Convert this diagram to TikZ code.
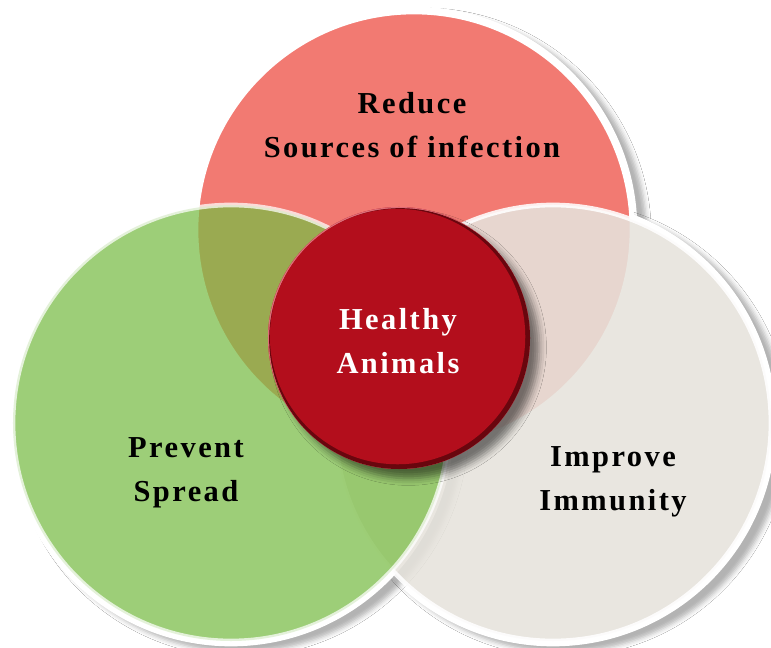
\documentclass[tikz,border=0pt]{standalone}
\usepackage{fontspec}
\usepackage{xcolor}
\usetikzlibrary{shadows.blur}

\newfontfamily\vennfont{Liberation Serif}[LetterSpace=8]

\definecolor{reducered}{RGB}{242,122,114}
\definecolor{spreadgreen}{RGB}{122,189,70}
\definecolor{immunebeige}{RGB}{230,227,220}
\definecolor{hubred}{RGB}{179,14,28}
\definecolor{hubdark}{RGB}{105,6,14}
\definecolor{hublight}{RGB}{222,110,120}

\begin{document}
\begin{tikzpicture}[x=0.03cm, y=-0.03cm,
    venn/.style={circle, inner sep=0pt, minimum size=13.08cm, draw=white, line width=4pt},
    vennback/.style={circle, inner sep=0pt, minimum size=13.4cm, fill=white,
        blur shadow={shadow xshift=8pt, shadow yshift=-5pt, shadow blur radius=4pt, shadow opacity=30}},
    venntext/.style={font=\vennfont\bfseries\fontsize{26}{37.5}\selectfont, align=center},
    hub/.style={circle, inner sep=0pt, minimum size=7.86cm, fill=hubred,
        blur shadow={shadow xshift=8pt, shadow yshift=-8pt, shadow blur radius=6pt, shadow opacity=50}}
]

    % page frame
    \useasboundingbox (0,0) rectangle (771,648);
    \fill[white] (0,0) rectangle (771,648);
    \clip (0,0) rectangle (771,648);

    % ── soft shadows, kept outside the circles by white discs ──
    \node[vennback] (reduceback) at (414,230) {};
    \node[vennback] (immunityback) at (553,423) {};
    \node[vennback] (spreadback) at (231,423) {};

    % ── three overlapping circles (red under, beige, then green on top) ──
    \node[venn, fill=reducered] (reduce) at (414,230) {};
    \node[venn, fill=immunebeige, opacity=.88] (immunity) at (553,423) {};
    \node[venn, fill=spreadgreen, opacity=.73] (spread) at (231,423) {};

    % ── centre disc with a bevelled rim ──
    \node[hub, path picture={
        \fill[hublight] (path picture bounding box.south west) rectangle (path picture bounding box.north east);
        \fill[hubdark] ([xshift=1pt, yshift=-1pt]path picture bounding box.center) circle (3.93cm);
        \fill[hubred] ([xshift=-1.2pt, yshift=1.2pt]path picture bounding box.center) circle (3.83cm);
    }] (healthy) at (399,338) {};

    % ── texts ──
    \node[venntext] (reducetext) at (412,125) {Reduce\\Sources of infection};
    \node[venntext, text=white] (healthytext) at (398,341) {Healthy\\Animals};
    \node[venntext] (spreadtext) at (186,473) {Prevent\\Spread};
    \node[venntext] (immunitytext) at (613,482) {Improve\\Immunity};

\end{tikzpicture}
\end{document}
